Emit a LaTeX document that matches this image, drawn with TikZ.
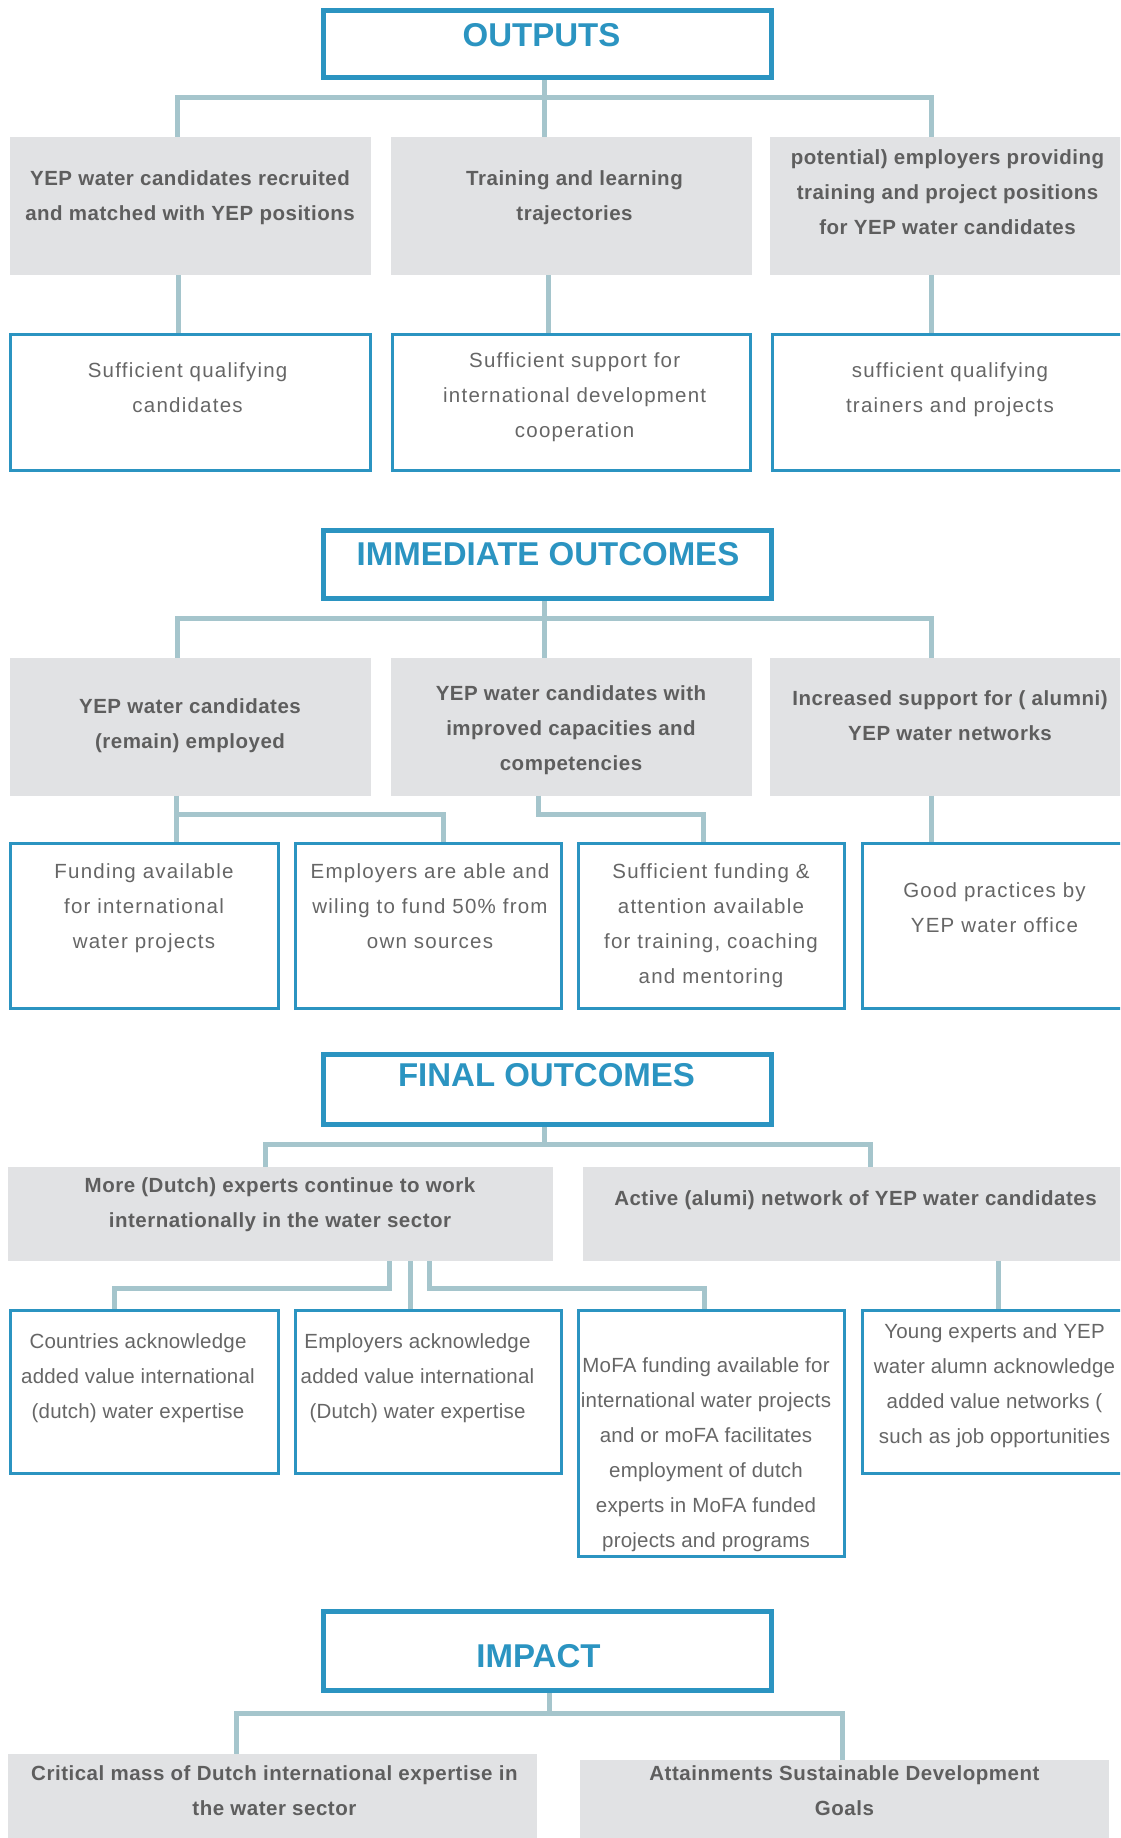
\documentclass[tikz,border=0pt]{standalone}
\usepackage{fontspec}
\setmainfont{Liberation Sans}
\newfontfamily\spacedfont[LetterSpace=6]{Liberation Sans}
\newfontfamily\boldfont[LetterSpace=2.5]{Liberation Sans}
\newfontfamily\plainfont[LetterSpace=1]{Liberation Sans}
\definecolor{tblue}{HTML}{2B94C1}
\definecolor{ccol}{HTML}{A5C5CC}
\definecolor{gfill}{HTML}{E1E2E4}
\definecolor{gtext}{HTML}{5E5E5E}
\definecolor{wtext}{HTML}{666666}
\newcommand\lnstrut{\rule{0pt}{0.8em}}
\tikzset{
  ttl/.style={draw=tblue, line width=5pt, fill=white, minimum width=448pt, inner sep=0pt},
  ttltxt/.style={text=tblue, font=\fontsize{33}{40}\selectfont\bfseries, inner sep=0pt, anchor=center},
  gbox/.style={fill=gfill, inner sep=0pt},
  wbox/.style={draw=tblue, line width=3pt, fill=white, inner sep=0pt},
  gtxt/.style={text=gtext, font=\boldfont\fontsize{20.5}{35}\selectfont\bfseries, align=center, inner sep=0pt, anchor=north, yshift=9.06pt},
  wtxt/.style={text=wtext, font=\spacedfont\fontsize{20.5}{35}\selectfont, align=center, inner sep=0pt, anchor=north, yshift=9.06pt},
  ntxt/.style={text=wtext, font=\plainfont\fontsize{20.5}{35}\selectfont, align=center, inner sep=0pt, anchor=north, yshift=9.06pt},
  conn/.style={draw=ccol, line width=5pt},
}
\begin{document}
\begin{tikzpicture}[x=1pt, y=-1pt]
\useasboundingbox (0,0) rectangle (1120,1838);
\clip (0,0) rectangle (1120,1838);

% ---------------- OUTPUTS ----------------
\node[ttl, minimum height=67pt] (t1) at (547.5,44) {};
\node[ttltxt] (t1txt) at (541.5,35) {OUTPUTS};

\node[gbox, minimum width=361pt, minimum height=138pt] (g11) at (190.5,206) {};
\node[gbox, minimum width=360.5pt, minimum height=138pt] (g12) at (571.25,206) {};
\node[gbox, minimum width=360pt, minimum height=138pt] (g13) at (950,206) {};
\node[gtxt] (g11t) at (190,177.5) {\lnstrut YEP water candidates recruited\\and matched with YEP positions};
\node[gtxt] (g12t) at (574.5,177.5) {\lnstrut Training and learning\\trajectories};
\node[gtxt] (g13t) at (947.5,157) {\lnstrut potential) employers providing\\training and project positions\\for YEP water candidates};

\node[wbox, minimum width=360pt, minimum height=136pt] (w11) at (190.5,402.5) {};
\node[wbox, minimum width=358pt, minimum height=136pt] (w12) at (571.5,402.5) {};
\node[wbox, minimum width=361pt, minimum height=136pt] (w13) at (953,402.5) {};
\node[wtxt] (w11t) at (187.6,369.5) {\lnstrut Sufficient qualifying\\candidates};
\node[wtxt] (w12t) at (574.7,360) {\lnstrut Sufficient support for\\international development\\cooperation};
\node[wtxt] (w13t) at (950,369.5) {\lnstrut sufficient qualifying\\trainers and projects};

\coordinate (j1) at (544,97.5);
\coordinate (a11) at (177,97.5);
\coordinate (a13) at (931,97.5);
\draw[conn] (j1 |- t1.south) -- (j1 |- g12.north);
\draw[conn] (a11 |- g11.north) -- (a11) -- (a13) -- (a13 |- g13.north);
\coordinate (d11) at (178,300);
\coordinate (d12) at (548,300);
\coordinate (d13) at (931,300);
\draw[conn] (d11 |- g11.south) -- (d11 |- w11.north);
\draw[conn] (d12 |- g12.south) -- (d12 |- w12.north);
\draw[conn] (d13 |- g13.south) -- (d13 |- w13.north);

% ---------------- IMMEDIATE OUTCOMES ----------------
\node[ttl, minimum height=68pt] (t2) at (547.5,564.5) {};
\node[ttltxt] (t2txt) at (548,554.5) {IMMEDIATE OUTCOMES};

\node[gbox, minimum width=361pt, minimum height=137.5pt] (g21) at (190.5,726.75) {};
\node[gbox, minimum width=360.5pt, minimum height=137.5pt] (g22) at (571.25,726.75) {};
\node[gbox, minimum width=360pt, minimum height=137.5pt] (g23) at (950,726.75) {};
\node[gtxt] (g21t) at (190,706) {\lnstrut YEP water candidates\\(remain) employed};
\node[gtxt] (g22t) at (571,693) {\lnstrut YEP water candidates with\\improved capacities and\\competencies};
\node[gtxt] (g23t) at (950,698) {\lnstrut Increased support for ( alumni)\\YEP water networks};

\node[wbox, minimum width=268pt, minimum height=165pt] (w21) at (144.5,926) {};
\node[wbox, minimum width=266.5pt, minimum height=165pt] (w22) at (428.25,926) {};
\node[wbox, minimum width=266.5pt, minimum height=165pt] (w23) at (711.25,926) {};
\node[wbox, minimum width=271.5pt, minimum height=165pt] (w24) at (997.75,926) {};
\node[wtxt] (w21t) at (144,871) {\lnstrut Funding available\\for international\\water projects};
\node[wtxt] (w22t) at (430,871) {\lnstrut Employers are able and\\wiling to fund 50\% from\\own sources};
\node[wtxt] (w23t) at (711,871) {\lnstrut Sufficient funding \&\\attention available\\for training, coaching\\and mentoring};
\node[wtxt] (w24t) at (994.5,890) {\lnstrut Good practices by\\YEP water office};

\coordinate (j2) at (544,618.5);
\coordinate (a21) at (177,618.5);
\coordinate (a23) at (931,618.5);
\draw[conn] (j2 |- t2.south) -- (j2 |- g22.north);
\draw[conn] (a21 |- g21.north) -- (a21) -- (a23) -- (a23 |- g23.north);
\coordinate (c21) at (176,814.5);
\coordinate (c22) at (443,814.5);
\coordinate (c23) at (538,814.5);
\coordinate (c24) at (703.5,814.5);
\coordinate (c25) at (931,814.5);
\draw[conn] (c21 |- g21.south) -- (c21 |- w21.north);
\draw[conn] (c21) -- (c22) -- (c22 |- w22.north);
\draw[conn] (c23 |- g22.south) -- (c23) -- (c24) -- (c24 |- w23.north);
\draw[conn] (c25 |- g23.south) -- (c25 |- w24.north);

% ---------------- FINAL OUTCOMES ----------------
\node[ttl, minimum height=70pt] (t3) at (547.5,1089.5) {};
\node[ttltxt] (t3txt) at (546.5,1075.3) {FINAL OUTCOMES};

\node[gbox, minimum width=545pt, minimum height=94pt] (g31) at (280.5,1214) {};
\node[gbox, minimum width=547pt, minimum height=94pt] (g32) at (856.5,1214) {};
\node[gtxt] (g31t) at (280,1184.5) {\lnstrut More (Dutch) experts continue to work\\internationally in the water sector};
\node[gtxt] (g32t) at (855.5,1197.5) {\lnstrut Active (alumi) network of YEP water candidates};

\node[wbox, minimum width=268pt, minimum height=163pt] (w31) at (144.5,1392) {};
\node[wbox, minimum width=266.5pt, minimum height=163pt] (w32) at (428.25,1392) {};
\node[wbox, minimum width=266.5pt, minimum height=246pt] (w33) at (711.25,1433.5) {};
\node[wbox, minimum width=271.5pt, minimum height=163pt] (w34) at (997.75,1392) {};
\node[ntxt] (w31t) at (138,1340.5) {\lnstrut Countries acknowledge\\added value international\\(dutch) water expertise};
\node[ntxt] (w32t) at (417.5,1340.5) {\lnstrut Employers acknowledge\\added value international\\(Dutch) water expertise};
\node[ntxt] (w33t) at (706,1365) {\lnstrut MoFA funding available for\\international water projects\\and or moFA facilitates\\employment of dutch\\experts in MoFA funded\\projects and programs};
\node[ntxt] (w34t) at (994.5,1331) {\lnstrut Young experts and YEP\\water alumn acknowledge\\added value networks (\\such as job opportunities};

\coordinate (j3) at (544,1144.5);
\coordinate (a31) at (265,1144.5);
\coordinate (a32) at (870,1144.5);
\draw[conn] (j3 |- t3.south) -- (j3);
\draw[conn] (a31 |- g31.north) -- (a31) -- (a32) -- (a32 |- g32.north);
\coordinate (e31) at (389,1288);
\coordinate (e32) at (114,1288);
\coordinate (e33) at (410,1288);
\coordinate (e34) at (429,1288);
\coordinate (e35) at (704,1288);
\coordinate (e36) at (998,1288);
\draw[conn] (e31 |- g31.south) -- (e31) -- (e32) -- (e32 |- w31.north);
\draw[conn] (e33 |- g31.south) -- (e33 |- w32.north);
\draw[conn] (e34 |- g31.south) -- (e34) -- (e35) -- (e35 |- w33.north);
\draw[conn] (e36 |- g32.south) -- (e36 |- w34.north);

% ---------------- IMPACT ----------------
\node[ttl, minimum height=79pt] (t4) at (547.5,1651) {};
\node[ttltxt] (t4txt) at (538.5,1656) {IMPACT};

\node[gbox, minimum width=529pt, minimum height=96pt] (g41) at (272.5,1802) {};
\node[gbox, minimum width=529pt, minimum height=90pt] (g42) at (844.5,1805) {};
\node[gtxt] (g41t) at (274.4,1773) {\lnstrut Critical mass of Dutch international expertise in\\the water sector};
\node[gtxt] (g42t) at (844.4,1773) {\lnstrut Attainments Sustainable Development\\Goals};

\coordinate (j4) at (549,1713);
\coordinate (a41) at (236,1713);
\coordinate (a42) at (842,1713);
\draw[conn] (j4 |- t4.south) -- (j4);
\draw[conn] (a41 |- g41.north) -- (a41) -- (a42) -- (a42 |- g42.north);
\end{tikzpicture}
\end{document}
